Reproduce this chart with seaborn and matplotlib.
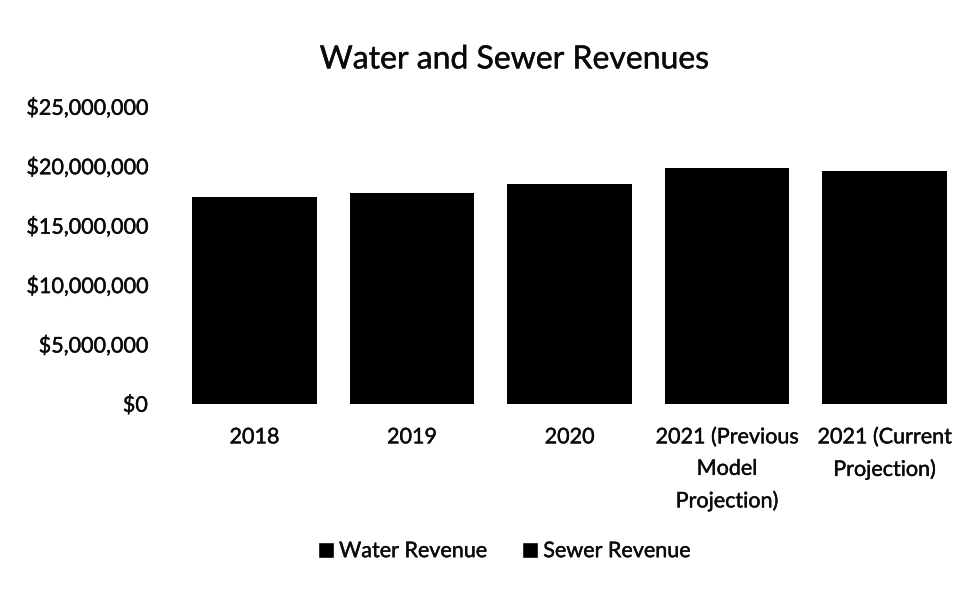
import matplotlib
matplotlib.use("Agg")
import matplotlib.pyplot as plt
import matplotlib.patheffects as pe
from matplotlib.patches import Patch
from matplotlib.ticker import FuncFormatter
import seaborn as sns
import pandas as pd

categories = ["2018", "2019", "2020", "2021 (Previous\nModel\nProjection)",
              "2021 (Current\nProjection)"]
water_revenue = [9_400_000, 9_600_000, 10_000_000, 10_800_000, 10_600_000]
sewer_revenue = [7_950_000, 8_100_000, 8_450_000, 9_050_000, 8_950_000]
series_names = ["Water Revenue", "Sewer Revenue"]
yticks = [0, 5_000_000, 10_000_000, 15_000_000, 20_000_000, 25_000_000]

df = pd.DataFrame({"category": categories,
                   "water": water_revenue,
                   "sewer": sewer_revenue})
df["total"] = df["water"] + df["sewer"]

sns.set_theme(style="white")
plt.rcParams["font.family"] = ["Lato", "DejaVu Sans"]

fig = plt.figure(figsize=(9.75, 5.92), dpi=100)
ax = fig.add_axes([0.18, 0.318, 0.808, 0.502])

water_color = "#000000"
sewer_color = "#000000"
text_color = "#0a0a0a"
heavy = [pe.withStroke(linewidth=0.3, foreground=text_color)]

# stacked bars: full height (sewer on top), then the water part over it
bar_kw = dict(width=0.79, saturation=1, linewidth=0, edgecolor="none",
              order=categories, ax=ax)
sns.barplot(data=df, x="category", y="total", color=sewer_color, **bar_kw)
sns.barplot(data=df, x="category", y="water", color=water_color, **bar_kw)

ax.set_ylim(0, 25_000_000)
ax.set_yticks(yticks)
ax.yaxis.set_major_formatter(FuncFormatter(lambda v, _: f"${v:,.0f}"))
ax.set_xlabel("")
ax.set_ylabel("")
for s in ax.spines.values():
    s.set_visible(False)
ax.tick_params(axis="y", labelsize=15.5, length=0, pad=20, colors=text_color)
ax.tick_params(axis="x", labelsize=15.5, length=0, pad=17, colors=text_color)
for lbl in ax.get_xticklabels():
    lbl.set_linespacing(1.72)
    lbl.set_ha("center")
    lbl.set_path_effects(heavy)
for lbl in ax.get_yticklabels():
    lbl.set_path_effects(heavy)

title = fig.suptitle("Water and Sewer Revenues", x=0.528, y=0.925,
                     fontsize=23, color=text_color)
title.set_path_effects(heavy)

handles = [Patch(facecolor=water_color, label=series_names[0]),
           Patch(facecolor=sewer_color, label=series_names[1])]
leg = fig.legend(handles=handles, loc="center", bbox_to_anchor=(0.517, 0.069),
                 ncol=2, frameon=False, fontsize=15.5, handlelength=0.75,
                 handleheight=0.75, handletextpad=0.25, columnspacing=1.6)
for t in leg.get_texts():
    t.set_color(text_color)
    t.set_path_effects(heavy)

fig.savefig("out.png", dpi=100, facecolor="white")
